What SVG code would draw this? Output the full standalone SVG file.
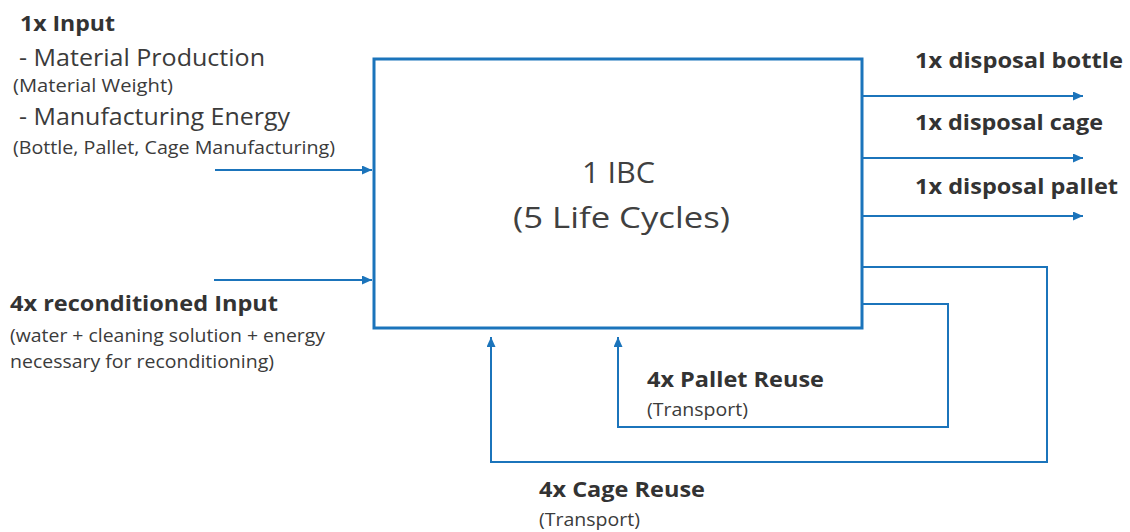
<svg xmlns="http://www.w3.org/2000/svg" width="1130" height="532" viewBox="0 0 1130 532">
  <style>
    text { font-family: "Open Sans", "Noto Sans", "Liberation Sans", sans-serif; fill: #3b3b3b; }
    .b { font-weight: bold; font-size: 22px; fill: #333333; }
    .m { font-size: 23px; }
    .s { font-size: 17.5px; }
    .c { font-size: 29px; fill: #404040; }
    .box { fill: #ffffff; stroke: #1b74bb; stroke-width: 3; }
    .ln { fill: none; stroke: #1b74bb; stroke-width: 2; }
  </style>
  <defs>
    <marker id="ah" markerUnits="userSpaceOnUse" markerWidth="11" markerHeight="9" refX="10" refY="4.5" orient="auto">
      <path d="M0,0 L10,4.5 L0,9 z" fill="#1b74bb"/>
    </marker>
  </defs>
  <rect width="1130" height="532" fill="#ffffff"/>

  <g id="ibc">
    <rect class="box" x="374" y="59" width="488" height="269"/>
    <text class="c" x="582" y="183" textLength="73" lengthAdjust="spacingAndGlyphs">1 IBC</text>
    <text class="c" x="513" y="228" textLength="217" lengthAdjust="spacingAndGlyphs">(5 Life Cycles)</text>
  </g>

  <g id="connectors">
    <line class="ln" x1="215" y1="170" x2="372" y2="170" marker-end="url(#ah)"/>
    <line class="ln" x1="214" y1="280" x2="372" y2="280" marker-end="url(#ah)"/>
    <line class="ln" x1="862" y1="96" x2="1083" y2="96" marker-end="url(#ah)"/>
    <line class="ln" x1="862" y1="158" x2="1083" y2="158" marker-end="url(#ah)"/>
    <line class="ln" x1="862" y1="216" x2="1083" y2="216" marker-end="url(#ah)"/>
    <path class="ln" d="M862,267 H1047 V462 H491 V337" marker-end="url(#ah)"/>
    <path class="ln" d="M862,304 H948 V427 H618 V337" marker-end="url(#ah)"/>
  </g>

  <g id="input">
    <text class="b" x="20" y="31" textLength="95" lengthAdjust="spacingAndGlyphs">1x Input</text>
    <text class="m" x="19" y="66" textLength="246" lengthAdjust="spacingAndGlyphs">- Material Production</text>
    <text class="s" x="13" y="92" textLength="160" lengthAdjust="spacingAndGlyphs">(Material Weight)</text>
    <text class="m" x="19" y="125" textLength="271" lengthAdjust="spacingAndGlyphs">- Manufacturing Energy</text>
    <text class="s" x="13" y="154" textLength="322" lengthAdjust="spacingAndGlyphs">(Bottle, Pallet, Cage Manufacturing)</text>
  </g>

  <g id="recond-input">
    <text class="b" x="10" y="311" textLength="268" lengthAdjust="spacingAndGlyphs">4x reconditioned Input</text>
    <text class="s" x="10" y="342" textLength="315" lengthAdjust="spacingAndGlyphs">(water + cleaning solution + energy</text>
    <text class="s" x="10" y="368" textLength="264" lengthAdjust="spacingAndGlyphs">necessary for reconditioning)</text>
  </g>

  <g id="disposal-bottle">
    <text class="b" x="915" y="68" textLength="208" lengthAdjust="spacingAndGlyphs">1x disposal bottle</text>
  </g>
  <g id="disposal-cage">
    <text class="b" x="915" y="130" textLength="188" lengthAdjust="spacingAndGlyphs">1x disposal cage</text>
  </g>
  <g id="disposal-pallet">
    <text class="b" x="915" y="194" textLength="203" lengthAdjust="spacingAndGlyphs">1x disposal pallet</text>
  </g>

  <g id="pallet-reuse">
    <text class="b" x="647" y="387" textLength="177" lengthAdjust="spacingAndGlyphs">4x Pallet Reuse</text>
    <text class="s" x="647" y="416" textLength="101" lengthAdjust="spacingAndGlyphs">(Transport)</text>
  </g>
  <g id="cage-reuse">
    <text class="b" x="539" y="497" textLength="166" lengthAdjust="spacingAndGlyphs">4x Cage Reuse</text>
    <text class="s" x="539" y="526" textLength="101" lengthAdjust="spacingAndGlyphs">(Transport)</text>
  </g>
</svg>
